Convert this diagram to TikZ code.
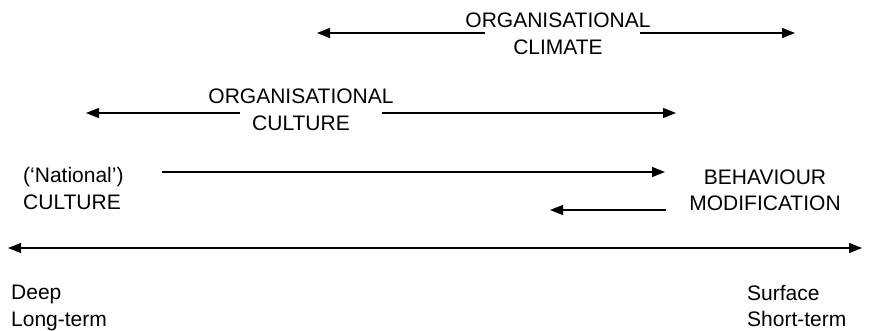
\documentclass[tikz,border=0pt]{standalone}
\usepackage{fontspec}
\setmainfont{Liberation Sans}
\usetikzlibrary{positioning,calc}
\usetikzlibrary{arrows.meta}

\begin{document}
\begin{tikzpicture}[x=1pt, y=-1pt,
    >={Triangle[length=13pt,width=10pt]},
    lbl/.style={align=center, font=\fontsize{21}{26.5}\selectfont, inner sep=0pt},
    lblleft/.style={lbl, align=left, anchor=west},
    arr/.style={line width=1.1pt}]
  \useasboundingbox (0,0) rectangle (869,330);

  % labels
  \node[lbl] at (558, 34) (clim) {ORGANISATIONAL\\CLIMATE};
  \node[lbl] at (301, 110) (orgcult) {ORGANISATIONAL\\CULTURE};
  \node[lblleft] at (23, 188.5) (natcult) {(`National')\\CULTURE};
  \node[lbl] at (765, 190.5) (behav) {BEHAVIOUR\\MODIFICATION};
  \node[lblleft] at (11, 308) (deep) {Deep\\Long-term};
  \node[lblleft] at (747, 306) (surf) {Surface\\Short-term};

  % arrow ends
  \coordinate (climL) at (317, 33);
  \coordinate (climR) at (795, 33);
  \coordinate (cultL) at (86, 113);
  \coordinate (cultR) at (676, 113);
  \coordinate (natS) at (162, 172);
  \coordinate (natT) at (665, 172);
  \coordinate (behS) at (666, 210);
  \coordinate (behT) at (550, 210);
  \coordinate (axisL) at (8, 248);
  \coordinate (axisR) at (862, 248);

  \draw [<-, arr] (climL) -- ($(clim.center)+(-73,-1)$);
  \draw [->, arr] ($(clim.center)+(82,-1)$) -- (climR);
  \draw [<-, arr] (cultL) -- ($(orgcult.center)+(-61,3)$);
  \draw [->, arr] ($(orgcult.center)+(81,3)$) -- (cultR);
  \draw [->, arr] (natS) -- (natT);
  \draw [->, arr] (behS) -- (behT);
  \draw [<->, line width=1.4pt] (axisL) -- (axisR);

\end{tikzpicture}
\end{document}
